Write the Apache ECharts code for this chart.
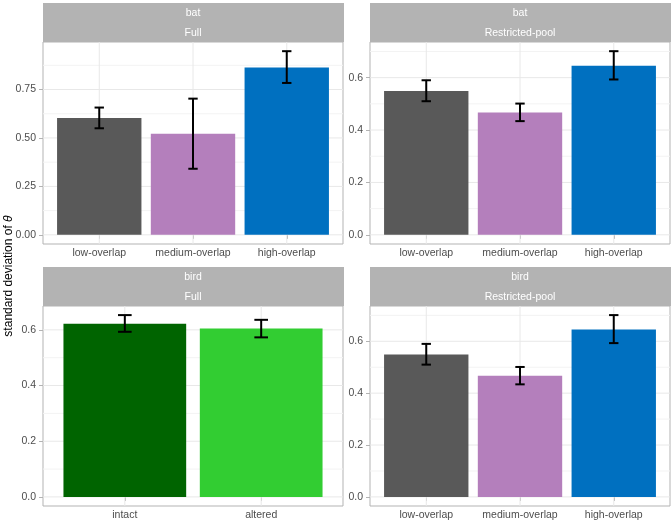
<!DOCTYPE html>
<html>
<head>
<meta charset="utf-8">
<script src="https://cdn.jsdelivr.net/npm/echarts@6/dist/echarts.min.js"></script>
<style>
  html, body { margin: 0; padding: 0; background: #fff; }
  #main { width: 672px; height: 522px; }
</style>
</head>
<body>
<div id="main"></div>
<script>
// categories
const overlapCats = ['low-overlap', 'medium-overlap', 'high-overlap'];
const habitatCats = ['intact', 'altered'];

// bat / Full
const batFullMean = [0.603, 0.522, 0.864];
const batFullLow = [0.550, 0.341, 0.784];
const batFullHigh = [0.657, 0.703, 0.948];

// bat / Restricted-pool
const batPoolMean = [0.549, 0.467, 0.645];
const batPoolLow = [0.510, 0.434, 0.593];
const batPoolHigh = [0.590, 0.501, 0.701];

// bird / Full
const birdFullMean = [0.622, 0.605];
const birdFullLow = [0.593, 0.573];
const birdFullHigh = [0.653, 0.636];

// bird / Restricted-pool
const birdPoolMean = [0.549, 0.467, 0.645];
const birdPoolLow = [0.510, 0.434, 0.593];
const birdPoolHigh = [0.590, 0.501, 0.701];

// tick labels
const ticksQuarter = [0, 0.25, 0.5, 0.75];
const ticksFifth = [0, 0.2, 0.4, 0.6];

const overlapColors = ['#595959', '#B47FBC', '#0070C0'];
const habitatColors = ['#006400', '#32CD32'];

const FONT = '"Liberation Sans", Arial, sans-serif';

let panels = [
    { species: 'bat', pool: 'Full', cats: overlapCats, colors: overlapColors,
      mean: batFullMean, low: batFullLow, high: batFullHigh, ticks: ticksQuarter, digits: 2,
      left: 43, top: 42, width: 300, height: 202 },
    { species: 'bat', pool: 'Restricted-pool', cats: overlapCats, colors: overlapColors,
      mean: batPoolMean, low: batPoolLow, high: batPoolHigh, ticks: ticksFifth, digits: 1,
      left: 370, top: 42, width: 300, height: 202 },
    { species: 'bird', pool: 'Full', cats: habitatCats, colors: habitatColors,
      mean: birdFullMean, low: birdFullLow, high: birdFullHigh, ticks: ticksFifth, digits: 1,
      left: 43, top: 306, width: 300, height: 200 },
    { species: 'bird', pool: 'Restricted-pool', cats: overlapCats, colors: overlapColors,
      mean: birdPoolMean, low: birdPoolLow, high: birdPoolHigh, ticks: ticksFifth, digits: 1,
      left: 370, top: 306, width: 300, height: 200 }
];

let grids = [], xAxes = [], yAxes = [], series = [], graphics = [];

panels.forEach(function (p, i) {
    const n = p.cats.length;
    const top = Math.max.apply(null, p.high);
    const ymin = -0.05 * top, ymax = top * 1.05;
    const xmin = 0.4, xmax = n + 0.6;
    const catPos = p.cats.map(function (c, k) { return k + 1; });
    const step = p.ticks[1] - p.ticks[0];

    grids.push({
        left: p.left, top: p.top, width: p.width, height: p.height,
        show: true, borderColor: '#B3B3B3', borderWidth: 1, backgroundColor: '#fff'
    });
    xAxes.push({
        type: 'value', gridIndex: i, min: xmin, max: xmax,
        axisLine: { show: false },
        splitLine: { show: false },
        axisTick: { show: true, customValues: catPos, length: 4, lineStyle: { color: '#B3B3B3' } },
        axisLabel: {
            customValues: catPos, margin: 4, color: '#4D4D4D', fontSize: 10.5, fontFamily: FONT,
            formatter: function (v) { return p.cats[Math.round(v) - 1]; }
        }
    });
    yAxes.push({
        type: 'value', gridIndex: i, min: ymin, max: ymax,
        axisLine: { show: false },
        splitLine: { show: false },
        axisTick: { show: true, customValues: p.ticks, length: 4, lineStyle: { color: '#B3B3B3' } },
        axisLabel: {
            customValues: p.ticks, margin: 7, color: '#4D4D4D', fontSize: 10.5, fontFamily: FONT,
            formatter: function (v) { return v.toFixed(p.digits); }
        }
    });

    // grid lines: 0 major horizontal, 1 minor horizontal, 2 major vertical
    let lines = [];
    p.ticks.forEach(function (t) {
        lines.push([0, t]);
        if (t + step / 2 < ymax) lines.push([1, t + step / 2]);
    });
    catPos.forEach(function (c) { lines.push([2, c]); });

    series.push({
        type: 'custom', xAxisIndex: i, yAxisIndex: i, z: 1, silent: true,
        data: lines,
        renderItem: function (params, api) {
            const kind = api.value(0), v = api.value(1);
            let a, b;
            if (kind === 2) { a = api.coord([v, ymin]); b = api.coord([v, ymax]); }
            else { a = api.coord([xmin, v]); b = api.coord([xmax, v]); }
            return {
                type: 'line',
                shape: { x1: a[0], y1: a[1], x2: b[0], y2: b[1] },
                style: { stroke: kind === 1 ? '#F3F3F3' : '#E8E8E8', lineWidth: 1 }
            };
        }
    });

    let bars = p.mean.map(function (m, k) { return [k + 1, m, p.low[k], p.high[k]]; });
    series.push({
        type: 'custom', xAxisIndex: i, yAxisIndex: i, z: 3, silent: true,
        data: bars,
        renderItem: function (params, api) {
            const x = api.value(0), m = api.value(1), lo = api.value(2), hi = api.value(3);
            const tl = api.coord([x - 0.45, m]), br = api.coord([x + 0.45, 0]);
            const capL = api.coord([x - 0.05, hi])[0], capR = api.coord([x + 0.05, hi])[0];
            const cx = api.coord([x, 0])[0];
            const yHi = api.coord([x, hi])[1], yLo = api.coord([x, lo])[1];
            const ebStyle = { stroke: '#000', lineWidth: 2 };
            return {
                type: 'group',
                children: [
                    { type: 'rect', shape: { x: tl[0], y: tl[1], width: br[0] - tl[0], height: br[1] - tl[1] },
                      style: { fill: p.colors[params.dataIndex] } },
                    { type: 'line', shape: { x1: cx, y1: yHi, x2: cx, y2: yLo }, style: ebStyle },
                    { type: 'line', shape: { x1: capL, y1: yHi, x2: capR, y2: yHi }, style: ebStyle },
                    { type: 'line', shape: { x1: capL, y1: yLo, x2: capR, y2: yLo }, style: ebStyle }
                ]
            };
        }
    });

    // facet strip
    const stripH = 39;
    graphics.push({
        type: 'group', left: p.left, top: p.top - stripH,
        children: [
            { type: 'rect', shape: { x: 0, y: 0, width: p.width + 1, height: stripH }, style: { fill: '#B3B3B3' } },
            { type: 'text', x: p.width / 2, y: 10, style: { text: p.species, fill: '#fff', font: '10.5px ' + FONT, align: 'center', verticalAlign: 'middle' } },
            { type: 'text', x: p.width / 2, y: 30, style: { text: p.pool, fill: '#fff', font: '10.5px ' + FONT, align: 'center', verticalAlign: 'middle' } }
        ]
    });
});

graphics.push({
    type: 'text', x: 9, y: 276, rotation: Math.PI / 2,
    style: {
        text: 'standard deviation of {it|θ}',
        fill: '#000', font: '12px ' + FONT, align: 'center', verticalAlign: 'middle',
        rich: { it: { fontStyle: 'italic', fontSize: 12, fontFamily: FONT } }
    }
});

const chart = echarts.init(document.getElementById('main'), null, { renderer: 'canvas' });
chart.setOption({
    animation: false,
    backgroundColor: '#fff',
    grid: grids,
    xAxis: xAxes,
    yAxis: yAxes,
    series: series,
    graphic: graphics
});
</script>
</body>
</html>
